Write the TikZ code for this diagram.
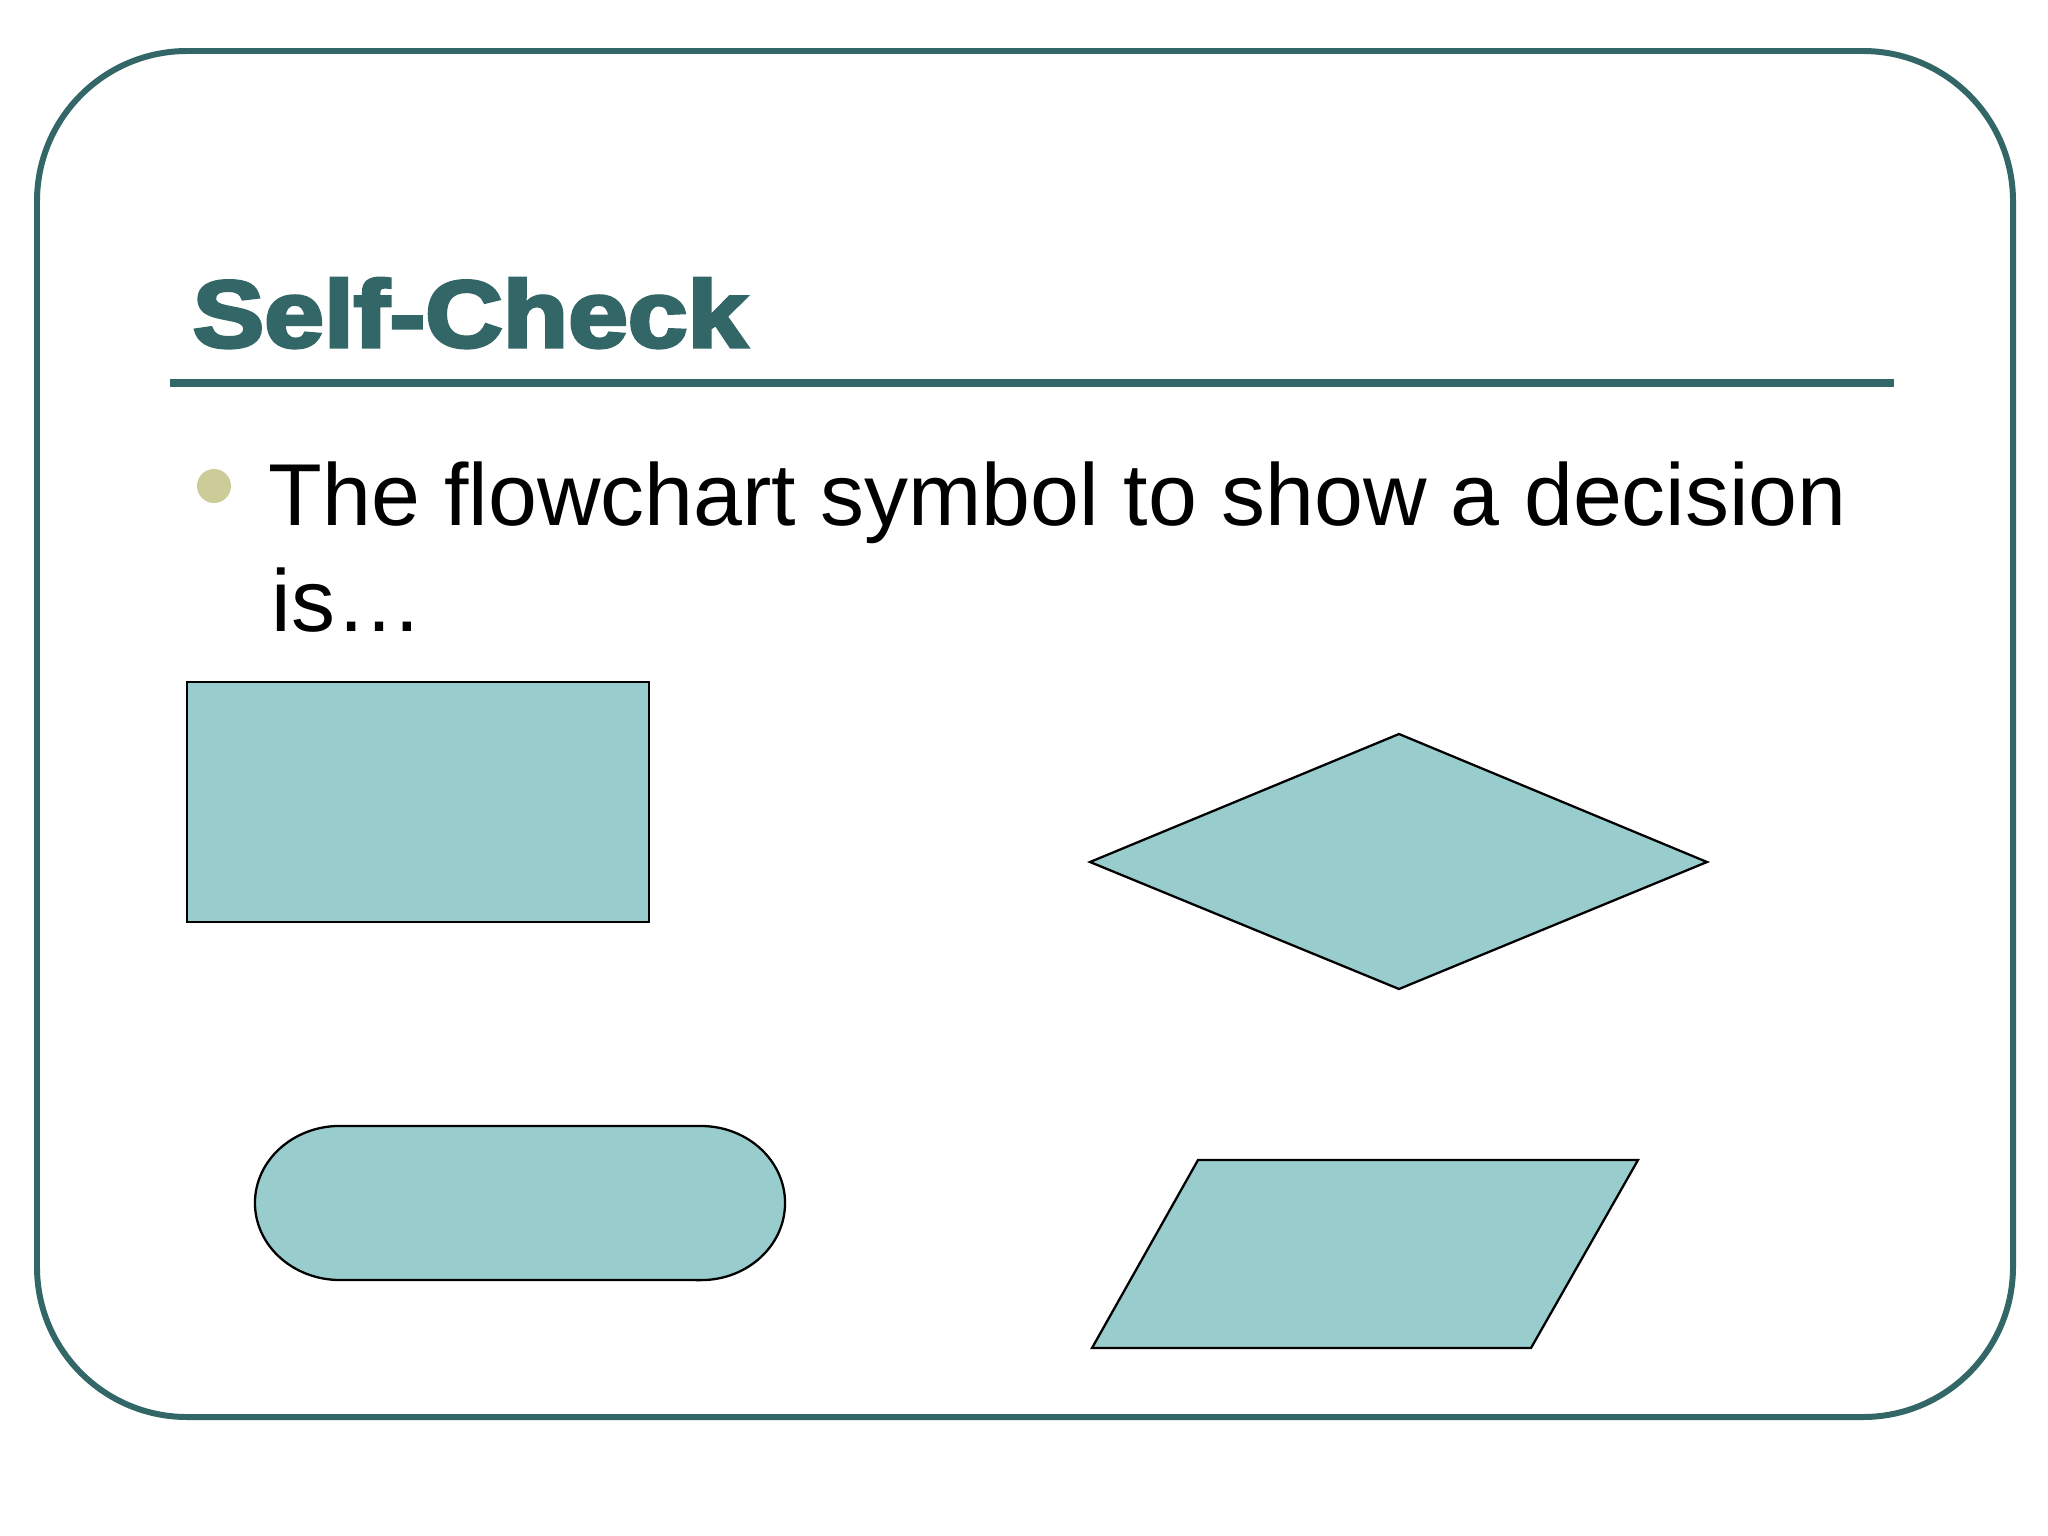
\documentclass[tikz,border=0pt]{standalone}
\usepackage{fontspec}
\usepackage{graphicx}
\setmainfont{Liberation Sans}
\newfontfamily\titlefont[FakeBold=3.5]{Liberation Sans Bold}
\definecolor{teal1}{RGB}{51,102,102}
\definecolor{shapefill}{RGB}{153,204,204}
\definecolor{bulletc}{RGB}{204,204,153}
\tikzset{
  frame/.style={draw=teal1, line width=1.7pt},
  rulebar/.style={draw=teal1, line width=2.3pt},
  symbolshape/.style={draw=black, fill=shapefill, line width=0.65pt, line join=miter},
  bodytext/.style={anchor=base west, inner sep=0pt, font=\fontsize{25}{30}\selectfont},
}
\begin{document}
\begin{tikzpicture}[x=0.01cm, y=-0.01cm]
\useasboundingbox (0,0) rectangle (2048,1536);
\fill[white] (0,0) rectangle (2048,1536);
% frame
\draw[frame, rounded corners=42.7pt] (37,51) rectangle (2013,1417);
% title
\node[anchor=base west, inner sep=0pt, text=teal1] (title) at (192,347)
  {\scalebox{1.13}[1]{\titlefont\fontsize{27}{32}\selectfont Self-Check}};
\draw[rulebar] (170,383) -- (1894,383);
% bullet
\fill[bulletc] (214,486) circle [radius=17];
\node[bodytext] (line1) at (268,525) {The flowchart symbol to show a decision};
\node[bodytext] (line2) at (271,631) {is…};
% rectangle
\draw[symbolshape] (187,682) rectangle (649,922);
% diamond
\draw[symbolshape] (1090,862) -- (1399,734) -- (1707,862) -- (1399,989) -- cycle;
% terminator
\draw[symbolshape] (340,1126) -- (701,1126)
  arc[start angle=90, end angle=-90, x radius=0.84cm, y radius=0.77cm]
  -- (340,1280)
  arc[start angle=270, end angle=90, x radius=0.85cm, y radius=0.77cm] -- cycle;
% parallelogram
\draw[symbolshape] (1198,1160) -- (1638,1160) -- (1531,1348) -- (1092,1348) -- cycle;
\end{tikzpicture}
\end{document}
